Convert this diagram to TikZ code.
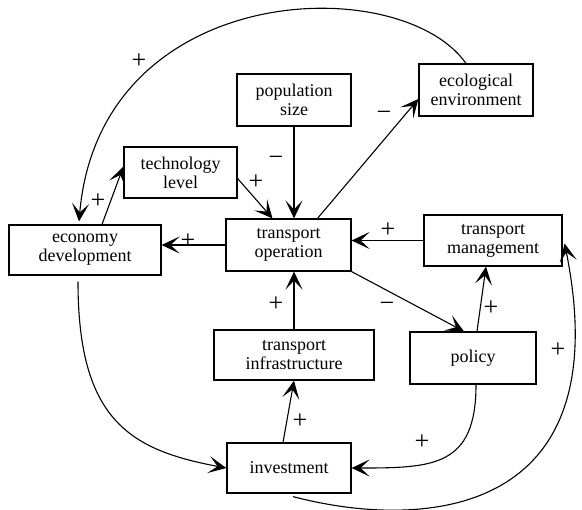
\documentclass[tikz,border=0pt]{standalone}
\usepackage{fontspec}
\setmainfont{Liberation Serif}
\usepackage{tikz}
\usetikzlibrary{arrows.meta,calc}

\begin{document}
\begin{tikzpicture}[
    x=0.5pt, y=-0.5pt,
    box/.style={draw, line width=0.6pt, inner sep=1pt, align=center, font=\fontsize{9}{9.5}\selectfont},
    arrow/.style={-{Stealth[length=9pt, width=8.5pt, inset=4.5pt]}, line width=0.55pt},
    sign/.style={font=\fontsize{13}{13}\selectfont, inner sep=0pt}
]
    \useasboundingbox (0,0) rectangle (582,509);

    \node[box, minimum width=57pt, minimum height=26pt] (pop) at (294,100) {population\\size};
    \node[box, minimum width=57pt, minimum height=26pt] (eco) at (476,90) {ecological\\environment};
    \node[box, minimum width=56.5pt, minimum height=25.5pt] (tech) at (180.5,172.5) {technology\\level};
    \node[box, minimum width=76pt, minimum height=25pt] (econ) at (85,250) {economy\\development};
    \node[box, minimum width=62.5pt, minimum height=26pt] (op) at (288.5,245) {transport\\operation};
    \node[box, minimum width=69pt, minimum height=25.5pt] (mgmt) at (493,240.5) {transport\\management};
    \node[box, minimum width=80pt, minimum height=25pt] (infra) at (294,355) {transport\\infrastructure};
    \node[box, minimum width=63pt, minimum height=26pt] (policy) at (473,358) {policy};
    \node[box, minimum width=62pt, minimum height=25pt] (invest) at (289,468) {investment};

    % Straight links
    \draw[arrow] (pop.south) -- (pop.south |- op.north);
    \draw[arrow] ($(tech.east)+(0,6)$) -- ($(op.north)+(-16,0)$);
    \draw[arrow] ($(op.north)+(29,0)$) -- ($(eco.west)+(0,9)$);
    \draw[arrow] ($(econ.north)+(17,0)$) -- ($(tech.west)+(0,-6)$);
    \draw[arrow] (op.west) -- (op.west -| econ.east);
    \draw[arrow] (mgmt.west) -- (mgmt.west -| op.east);
    \draw[arrow] (op.south east) -- ($(policy.north)+(-9,0)$);
    \draw[arrow] ($(policy.north)+(4,0)$) -- ($(mgmt.south)+(-7,0)$);
    \draw[arrow] (infra.north) -- (infra.north |- op.south);
    \draw[arrow] ($(invest.north)+(-6,0)$) -- (infra.south);

    % Feedback curves
    \draw[arrow] ($(eco.north)+(-10,0)$) .. controls (400,-30) and (100,-20) .. ($(econ.north)+(-6,-3)$);
    \draw[arrow] ($(econ.south)+(-7,6)$) .. controls (78,420) and (130,450) .. (invest.west);
    \draw[arrow] ($(policy.south)+(3,0)$) to[out=-90, in=0, looseness=1.4] (invest.east);
    \draw[arrow] ($(invest.south)+(4,3)$) .. controls (420,530) and (620,520) .. ($(mgmt.east)+(2,3)$);

    % Polarity signs
    \node[sign] (s-popop) at (276,161) {−};
    \node[sign] (s-techop) at (256,182) {+};
    \node[sign] (s-opeco) at (384,116) {−};
    \node[sign] (s-econtech) at (98,201) {+};
    \node[sign] (s-opecon) at (188,241) {+};
    \node[sign] (s-mgmtop) at (388,230) {+};
    \node[sign] (s-oppolicy) at (387,307) {−};
    \node[sign] (s-policymgmt) at (491,308) {+};
    \node[sign] (s-infraop) at (276,304) {+};
    \node[sign] (s-investinfra) at (300,421) {+};
    \node[sign] (s-policyinvest) at (422,442) {+};
    \node[sign] (s-investmgmt) at (558,350) {+};
    \node[sign] (s-ecoecon) at (139,61) {+};
\end{tikzpicture}
\end{document}
